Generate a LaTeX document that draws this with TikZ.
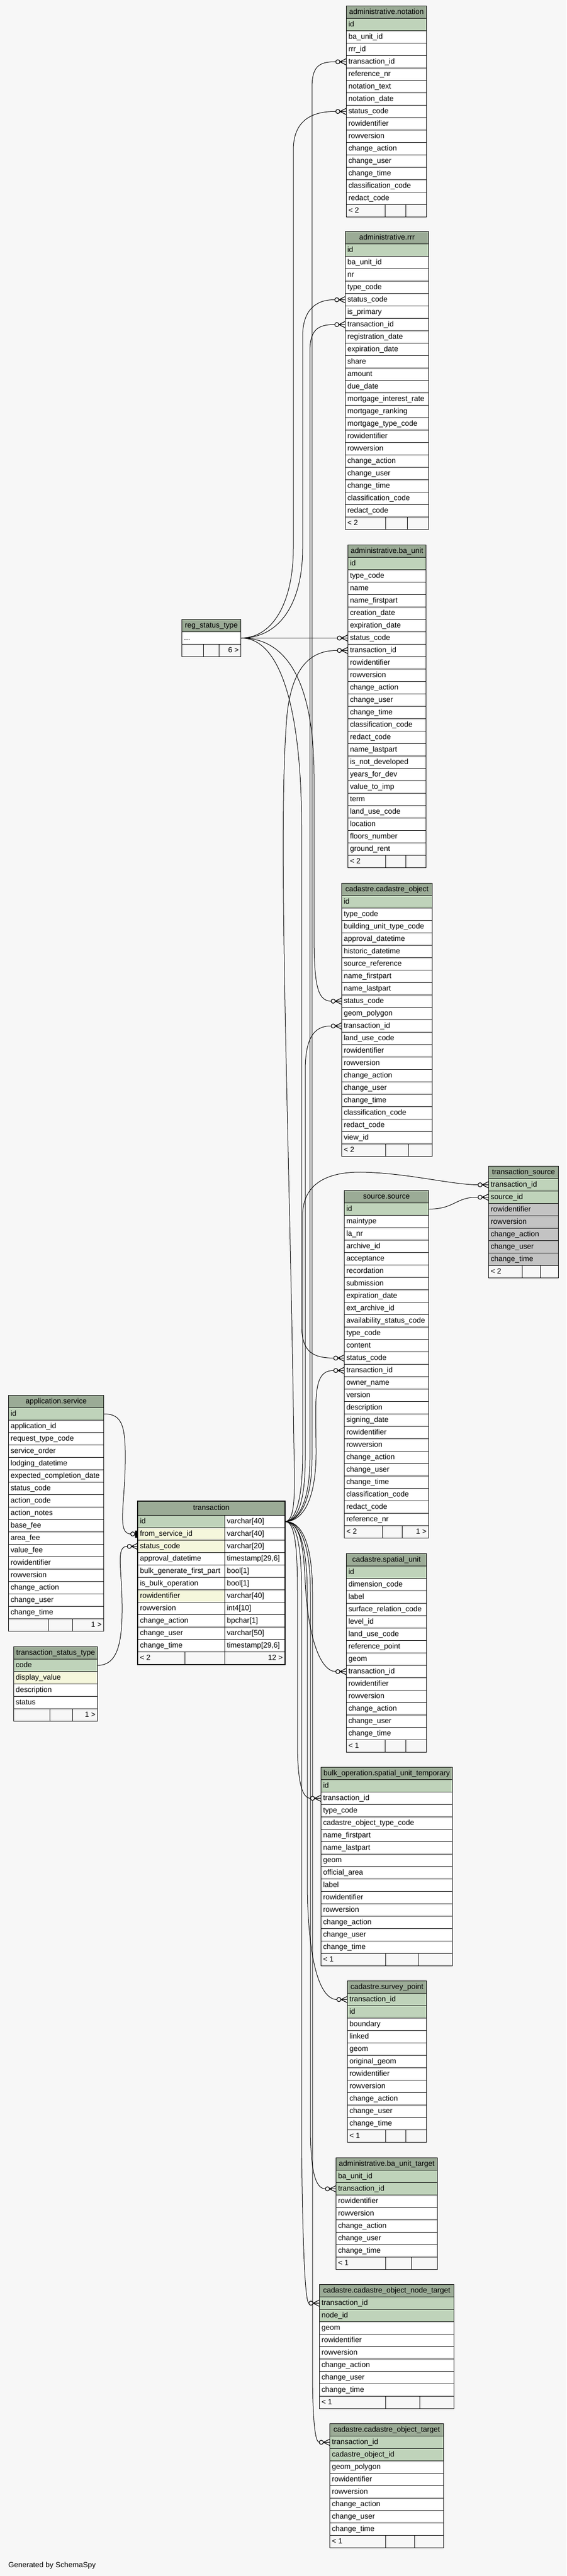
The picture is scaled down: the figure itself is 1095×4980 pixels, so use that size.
\documentclass[tikz,border=0pt]{standalone}
\usepackage{fontspec}
\setmainfont{Liberation Sans}
\usetikzlibrary{calc}
\definecolor{bgc}{HTML}{F7F7F7}
\definecolor{hdrc}{HTML}{9BAB96}
\definecolor{pk}{HTML}{BFD3BA}
\definecolor{ix}{HTML}{F5F7DC}
\definecolor{ex}{HTML}{C3C3C3}
\definecolor{w}{HTML}{FFFFFF}
\newcommand\tabfont{\fontsize{14.4}{17}\selectfont}
\tikzset{
  cell/.style={draw=black, line width=1pt, rectangle, anchor=north west, inner xsep=4pt, inner ysep=0pt, minimum height=24pt, text height=11pt, text depth=3.5pt, font=\tabfont},
  hdr/.style={cell, fill=hdrc},
  foot/.style={cell, fill=bgc},
  conn/.style={draw=black, line width=1pt},
  mk/.style={draw=black, line width=1.2pt},
}
\newcommand\mktable[6]{%
  \pgfmathsetmacro\tkw{#4-8}%
  \node[hdr] (#1-hdr) at (#2,#3) {\makebox[\tkw pt][c]{#5}};%
  \foreach \cn/\cf [count=\i] in {#6} {%
    \node[cell, fill=\cf] (#1-\cn) at (#2,{#3+24*\i}) {\makebox[\tkw pt][l]{\cn}};%
  }%
}
\newcommand\mkfoot[8]{%
  \pgfmathsetmacro\tkwa{#5-#2-8}\pgfmathsetmacro\tkwb{#6-#5-8}\pgfmathsetmacro\tkwc{#3-#6-8}%
  \node[foot] (#1-f1) at (#2,#4) {\makebox[\tkwa pt][l]{#7}};%
  \node[foot] (#1-f2) at (#5,#4) {\makebox[\tkwb pt][l]{}};%
  \node[foot] (#1-f3) at (#6,#4) {\makebox[\tkwc pt][r]{#8}};%
}
\newcommand\txrow[4]{%
  \node[cell, fill=#3] (tx-#2) at (266,{2929+24*(#1-1)}) {\makebox[160pt][l]{#2}};%
  \node[cell, fill=w] (tx-#2-t) at (434,{2929+24*(#1-1)}) {\makebox[108pt][l]{#4}};%
}
\newcommand\crowfk[1]{%
  \draw[mk] ([xshift=-12pt]#1.west) -- ([yshift=6pt]#1.west) ([xshift=-12pt]#1.west) -- (#1.west) ([xshift=-12pt]#1.west) -- ([yshift=-6pt]#1.west);%
  \draw[mk, fill=bgc] ([xshift=-16pt]#1.west) circle[radius=4pt];%
}
\newcommand\teefk[1]{%
  \fill[black] ([xshift=-5pt,yshift=-7pt]#1.west) rectangle ([xshift=-1.5pt,yshift=7pt]#1.west);%
  \draw[mk, fill=bgc] ([xshift=-9.5pt]#1.west) circle[radius=4pt];%
}
\begin{document}
\catcode`\_=12
\begin{tikzpicture}[x=1pt,y=-1pt]
\path[use as bounding box] (0,0) rectangle (1095,4980);
\fill[bgc] (0,0) rectangle (1095,4980);

% ---------- tables ----------
\mktable{no}{669}{11}{155}{administrative.notation}{id/pk,ba_unit_id/w,rrr_id/w,transaction_id/w,reference_nr/w,notation_text/w,notation_date/w,status_code/w,rowidentifier/w,rowversion/w,change_action/w,change_user/w,change_time/w,classification_code/w,redact_code/w}
\mkfoot{no}{669}{824}{395}{744}{784}{< 2}{}

\mktable{rr}{667}{447}{161}{administrative.rrr}{id/pk,ba_unit_id/w,nr/w,type_code/w,status_code/w,is_primary/w,transaction_id/w,registration_date/w,expiration_date/w,share/w,amount/w,due_date/w,mortgage_interest_rate/w,mortgage_ranking/w,mortgage_type_code/w,rowidentifier/w,rowversion/w,change_action/w,change_user/w,change_time/w,classification_code/w,redact_code/w}
\mkfoot{rr}{667}{828}{999}{745}{787}{< 2}{}

\mktable{bu}{672}{1053}{151}{administrative.ba_unit}{id/pk,type_code/w,name/w,name_firstpart/w,creation_date/w,expiration_date/w,status_code/w,transaction_id/w,rowidentifier/w,rowversion/w,change_action/w,change_user/w,change_time/w,classification_code/w,redact_code/w,name_lastpart/w,is_not_developed/w,years_for_dev/w,value_to_imp/w,term/w,land_use_code/w,location/w,floors_number/w,ground_rent/w}
\mkfoot{bu}{672}{823}{1653}{745}{784}{< 2}{}

\node[hdr] (rs-hdr) at (351,1197) {\makebox[106pt][c]{reg_status_type}};
\node[cell, fill=w] (rs-dots) at (351,1221) {\makebox[106pt][l]{...}};
\mkfoot{rs}{351}{465}{1245}{393}{423}{}{6 >}

\mktable{co}{660}{1707}{175}{cadastre.cadastre_object}{id/pk,type_code/w,building_unit_type_code/w,approval_datetime/w,historic_datetime/w,source_reference/w,name_firstpart/w,name_lastpart/w,status_code/w,geom_polygon/w,transaction_id/w,land_use_code/w,rowidentifier/w,rowversion/w,change_action/w,change_user/w,change_time/w,classification_code/w,redact_code/w,view_id/w}
\mkfoot{co}{660}{835}{2211}{745}{789}{< 2}{}

\mktable{ts}{944}{2254}{135}{transaction_source}{transaction_id/pk,source_id/pk,rowidentifier/ex,rowversion/ex,change_action/ex,change_user/ex,change_time/ex}
\mkfoot{ts}{944}{1079}{2446}{1009}{1044}{< 2}{}

\mktable{so}{665}{2301}{163}{source.source}{id/pk,maintype/w,la_nr/w,archive_id/w,acceptance/w,recordation/w,submission/w,expiration_date/w,ext_archive_id/w,availability_status_code/w,type_code/w,content/w,status_code/w,transaction_id/w,owner_name/w,version/w,description/w,signing_date/w,rowidentifier/w,rowversion/w,change_action/w,change_user/w,change_time/w,classification_code/w,redact_code/w,reference_nr/w}
\mkfoot{so}{665}{828}{2949}{739}{777}{< 2}{1 >}

\mktable{sv}{16}{2697}{184}{application.service}{id/pk,application_id/w,request_type_code/w,service_order/w,lodging_datetime/w,expected_completion_date/w,status_code/w,action_code/w,action_notes/w,base_fee/w,area_fee/w,value_fee/w,rowidentifier/w,rowversion/w,change_action/w,change_user/w,change_time/w}
\mkfoot{sv}{16}{200}{3129}{93}{140}{}{1 >}

\mktable{tt}{26}{3183}{162}{transaction_status_type}{code/pk,display_value/ix,description/w,status/w}
\mkfoot{tt}{26}{188}{3303}{96}{140}{}{1 >}

\node[hdr, minimum height=27pt] (tx-hdr) at (266,2902) {\makebox[276pt][c]{transaction}};
\txrow{1}{id}{pk}{varchar[40]}
\txrow{2}{from_service_id}{ix}{varchar[40]}
\txrow{3}{status_code}{ix}{varchar[20]}
\txrow{4}{approval_datetime}{w}{timestamp[29,6]}
\txrow{5}{bulk_generate_first_part}{w}{bool[1]}
\txrow{6}{is_bulk_operation}{w}{bool[1]}
\txrow{7}{rowidentifier}{ix}{varchar[40]}
\txrow{8}{rowversion}{w}{int4[10]}
\txrow{9}{change_action}{w}{bpchar[1]}
\txrow{10}{change_user}{w}{varchar[50]}
\txrow{11}{change_time}{w}{timestamp[29,6]}
\mkfoot{tx}{266}{550}{3193}{357}{434}{< 2}{12 >}
\draw[line width=2.5pt] (tx-hdr.north west) rectangle (tx-f3.south east);

\mktable{su}{669}{3003}{155}{cadastre.spatial_unit}{id/pk,dimension_code/w,label/w,surface_relation_code/w,level_id/w,land_use_code/w,reference_point/w,geom/w,transaction_id/w,rowidentifier/w,rowversion/w,change_action/w,change_user/w,change_time/w}
\mkfoot{su}{669}{824}{3363}{744}{784}{< 1}{}

\mktable{bo}{620}{3416}{254}{bulk_operation.spatial_unit_temporary}{id/pk,transaction_id/w,type_code/w,cadastre_object_type_code/w,name_firstpart/w,name_lastpart/w,geom/w,official_area/w,label/w,rowidentifier/w,rowversion/w,change_action/w,change_user/w,change_time/w}
\mkfoot{bo}{620}{874}{3776}{745}{809}{< 1}{}

\mktable{sp}{671}{3829}{153}{cadastre.survey_point}{transaction_id/pk,id/pk,boundary/w,linked/w,geom/w,original_geom/w,rowidentifier/w,rowversion/w,change_action/w,change_user/w,change_time/w}
\mkfoot{sp}{671}{824}{4117}{745}{784}{< 1}{}

\mktable{bt}{649}{4171}{196}{administrative.ba_unit_target}{ba_unit_id/pk,transaction_id/pk,rowidentifier/w,rowversion/w,change_action/w,change_user/w,change_time/w}
\mkfoot{bt}{649}{845}{4363}{745}{795}{< 1}{}

\mktable{nt}{617}{4416}{260}{cadastre.cadastre_object_node_target}{transaction_id/pk,node_id/pk,geom/w,rowidentifier/w,rowversion/w,change_action/w,change_user/w,change_time/w}
\mkfoot{nt}{617}{877}{4632}{745}{811}{< 1}{}

\mktable{ct}{637}{4685}{220}{cadastre.cadastre_object_target}{transaction_id/pk,cadastre_object_id/pk,geom_polygon/w,rowidentifier/w,rowversion/w,change_action/w,change_user/w,change_time/w}
\mkfoot{ct}{637}{857}{4901}{745}{801}{< 1}{}

\node[anchor=west, font=\tabfont, inner sep=0pt] (gen) at (16,4960) {Generated by SchemaSpy};

% ---------- connectors: transaction.id (up) ----------
\draw[conn] (tx-id-t.east) .. controls (580,2941) and (603,2900) .. (603,2820) -- (603,170) .. controls (603,130) and (615,119) .. ([xshift=-20pt]no-transaction_id.west);
\draw[conn] (tx-id-t.east) .. controls (578,2941) and (599,2900) .. (599,2820) -- (599,680) .. controls (599,640) and (612,627) .. ([xshift=-20pt]rr-transaction_id.west);
\draw[conn] (tx-id-t.east) .. controls (572,2941) and (570,2880) .. (568,2790) .. controls (560,2200) and (535,1600) .. (555,1380) .. controls (565,1290) and (600,1257) .. ([xshift=-20pt]bu-transaction_id.west);
\draw[conn] (tx-id-t.east) .. controls (576,2941) and (590,2900) .. (590,2820) -- (590,2070) .. controls (590,2010) and (605,1983) .. ([xshift=-20pt]co-transaction_id.west);
\draw[conn] (tx-id-t.east) .. controls (590,2941) and (612,2890) .. (611,2800) .. controls (610,2700) and (605,2649) .. ([xshift=-20pt]so-transaction_id.west);
\draw[conn] (tx-id-t.east) .. controls (574,2941) and (585,2890) .. (585,2810) -- (585,2350) .. controls (585,2290) and (630,2265) .. (700,2266) .. controls (790,2268) and (870,2290) .. ([xshift=-20pt]ts-transaction_id.west);
% ---------- connectors: transaction.id (down) ----------
\draw[conn] (tx-id-t.east) .. controls (580,2941) and (587,2990) .. (590,3060) .. controls (596,3170) and (620,3231) .. ([xshift=-20pt]su-transaction_id.west);
\draw[conn] (tx-id-t.east) .. controls (570,2941) and (575,2990) .. (575,3080) -- (575,3380) .. controls (576,3450) and (585,3476) .. ([xshift=-20pt]bo-transaction_id.west);
\draw[conn] (tx-id-t.east) .. controls (578,2941) and (594,2990) .. (594,3080) -- (594,3650) .. controls (596,3800) and (620,3865) .. ([xshift=-20pt]sp-transaction_id.west);
\draw[conn] (tx-id-t.east) .. controls (582,2941) and (600,2990) .. (600,3080) -- (600,4120) .. controls (601,4200) and (610,4231) .. ([xshift=-20pt]bt-transaction_id.west);
\draw[conn] (tx-id-t.east) .. controls (574,2941) and (583,2990) .. (583,3080) -- (583,4150) .. controls (585,4350) and (590,4450) .. ([xshift=-20pt]nt-transaction_id.west);
\draw[conn] (tx-id-t.east) .. controls (586,2941) and (604,2990) .. (604,3080) -- (604,4600) .. controls (605,4690) and (610,4721) .. ([xshift=-20pt]ct-transaction_id.west);
% ---------- connectors: reg_status_type ----------
\draw[conn] (rs-dots.east) .. controls (530,1233) and (567,1160) .. (567,1060) -- (567,290) .. controls (567,235) and (600,215) .. ([xshift=-20pt]no-status_code.west);
\draw[conn] (rs-dots.east) .. controls (545,1233) and (585,1160) .. (585,1060) -- (585,650) .. controls (585,600) and (610,579) .. ([xshift=-20pt]rr-status_code.west);
\draw[conn] (rs-dots.east) -- ([xshift=-20pt]bu-status_code.west);
\draw[conn] (rs-dots.east) .. controls (560,1233) and (607,1330) .. (607,1500) -- (607,1800) .. controls (607,1900) and (612,1935) .. ([xshift=-20pt]co-status_code.west);
\draw[conn] (rs-dots.east) .. controls (545,1233) and (583,1380) .. (583,1600) -- (583,2560) .. controls (583,2610) and (600,2625) .. ([xshift=-20pt]so-status_code.west);
% ---------- other connectors ----------
\draw[conn] (so-id.east) .. controls (880,2337) and (880,2314) .. ([xshift=-20pt]ts-source_id.west);
\draw[conn] (sv-id.east) .. controls (238,2733) and (243,2760) .. (242,2830) .. controls (241,2910) and (226,2965) .. ([xshift=-13.5pt]tx-from_service_id.west);
\draw[conn] (tt-code.east) .. controls (226,3219) and (237,3180) .. (236,3100) .. controls (235,3030) and (224,2989) .. ([xshift=-20pt]tx-status_code.west);

% ---------- end markers ----------
\crowfk{no-transaction_id}
\crowfk{no-status_code}
\crowfk{rr-status_code}
\crowfk{rr-transaction_id}
\crowfk{bu-status_code}
\crowfk{bu-transaction_id}
\crowfk{co-status_code}
\crowfk{co-transaction_id}
\crowfk{so-status_code}
\crowfk{so-transaction_id}
\crowfk{ts-transaction_id}
\crowfk{ts-source_id}
\crowfk{su-transaction_id}
\crowfk{bo-transaction_id}
\crowfk{sp-transaction_id}
\crowfk{bt-transaction_id}
\crowfk{nt-transaction_id}
\crowfk{ct-transaction_id}
\crowfk{tx-status_code}
\teefk{tx-from_service_id}
\end{tikzpicture}
\end{document}
